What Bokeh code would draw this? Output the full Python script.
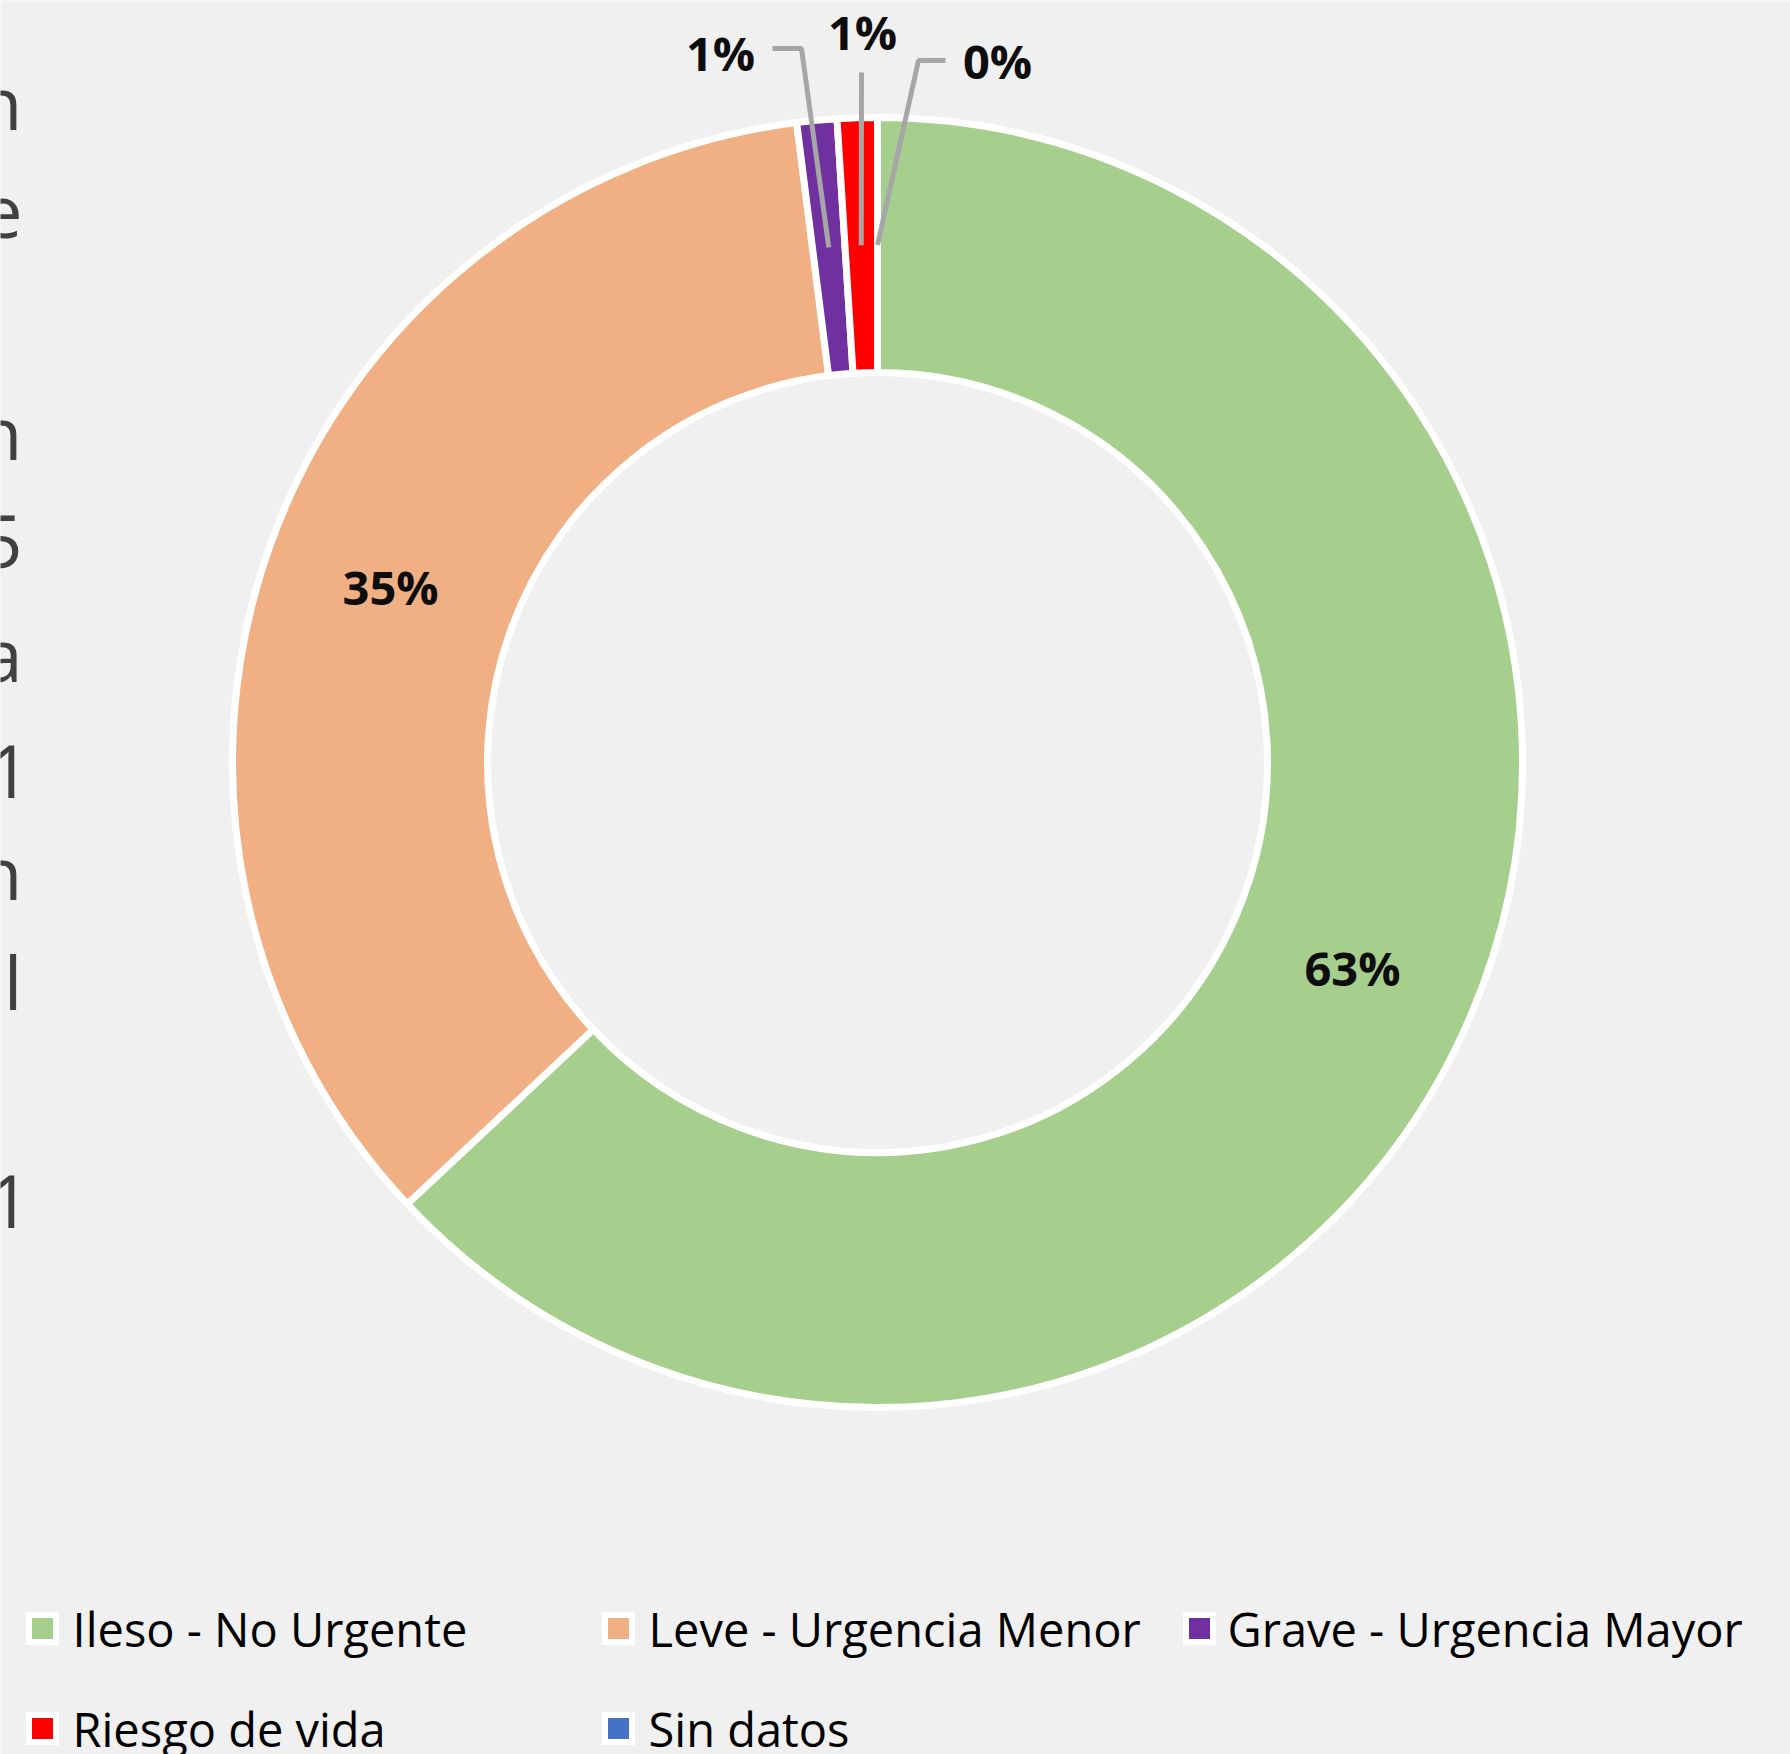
import numpy as np
from bokeh.plotting import figure
from bokeh.models import Range1d
from bokeh.core.properties import value
from bokeh.embed import file_html
from bokeh.resources import INLINE

# ---- data ----
categories = ["Ileso - No Urgente", "Leve - Urgencia Menor", "Grave - Urgencia Mayor",
              "Riesgo de vida", "Sin datos"]
percent_values = [63, 35, 1, 1, 0]
pct_labels = ["63%", "35%", "1%", "1%", "0%"]
colors = ["#A6CE8C", "#F0B084", "#7030A0", "#FF0000", "#4472C4"]

# clipped text fragments at the left edge (from an overlapping text box)
side_chars = ["n", "e", "n", "5", "a", "1", "n", "l", "1"]

# ---- layout (screen pixels) ----
W, H = 1790, 1754
CX, CY = 877, H - 762
R_OUT, R_IN = 645, 390
R_LAB = (R_OUT + R_IN) / 2

FONT = "Open Sans"

p = figure(width=W, height=H, x_range=Range1d(0, W), y_range=Range1d(0, H),
           output_backend="svg", toolbar_location=None,
           x_axis_type=None, y_axis_type=None, min_border=0,
           outline_line_color=None,
           background_fill_color="#F0F0F0", border_fill_color="#F0F0F0")
p.grid.visible = False

vals = np.array(percent_values, dtype=float)
frac = vals / vals.sum()
cum_end = np.cumsum(frac)
cum_start = cum_end - frac

# ---- donut ----
for i in range(len(categories)):
    if frac[i] <= 0:
        continue
    a0 = np.pi / 2 - 2 * np.pi * cum_start[i]
    a1 = np.pi / 2 - 2 * np.pi * cum_end[i]
    p.annular_wedge(x=CX, y=CY, inner_radius=R_IN, outer_radius=R_OUT,
                    start_angle=a0, end_angle=a1, direction="clock",
                    fill_color=colors[i], line_color="white", line_width=7)

# ---- data labels ----
mid = np.pi / 2 - 2 * np.pi * (cum_start + frac / 2)
lx = CX + R_LAB * np.cos(mid)
ly = CY + R_LAB * np.sin(mid)

# outside label placements for the thin slices (label centre, leader elbow, leader end)
outside = {
    2: dict(pos=(720, 52), path=[(801, 48), (772, 48)]),
    3: dict(pos=(862, 31), path=[(861, 72)]),
    4: dict(pos=(997, 60), path=[(918, 60), (945, 60)]),
}

for i in range(len(categories)):
    if i in outside:
        o = outside[i]
        xs = [lx[i]] + [pt[0] for pt in o["path"]]
        ys = [ly[i]] + [H - pt[1] for pt in o["path"]]
        p.line(xs, ys, line_color="#A6A6A6", line_width=5)
        tx, ty = o["pos"][0], H - o["pos"][1]
    else:
        tx, ty = lx[i], ly[i]
    p.text(x=[tx], y=[ty], text=[pct_labels[i]], text_align="center",
           text_baseline="middle", text_font=value(FONT), text_font_style="bold",
           text_font_size="47px", text_color="#0D0D0D")

# ---- legend ----
leg_sq_x = [42, 618, 1199, 42, 618]
leg_tx_x = [72, 648, 1227, 72, 648]
leg_cy = [1628, 1628, 1628, 1728, 1728]
for i, cat in enumerate(categories):
    p.rect(x=[leg_sq_x[i]], y=[H - leg_cy[i]], width=33, height=33,
           fill_color="white", line_color=None)
    p.rect(x=[leg_sq_x[i]], y=[H - leg_cy[i]], width=21, height=21,
           fill_color=colors[i], line_color=None)
    p.text(x=[leg_tx_x[i]], y=[H - leg_cy[i]], text=[cat],
           text_align="left", text_baseline="middle",
           text_font=value(FONT), text_font_size="47px", text_color="#000000")

# ---- clipped side text ----
side_base = [128, 238, 458, 568, 680, 798, 898, 1008, 1228]
side_x = [30 if c == "1" else 22 for c in side_chars]
p.text(x=side_x, y=[H - (b - 27) for b in side_base], text=side_chars,
       text_align="right", text_baseline="middle",
       text_font=value(FONT), text_font_size="74px", text_color="#404040")

open("out.html", "w").write(file_html(p, INLINE))
